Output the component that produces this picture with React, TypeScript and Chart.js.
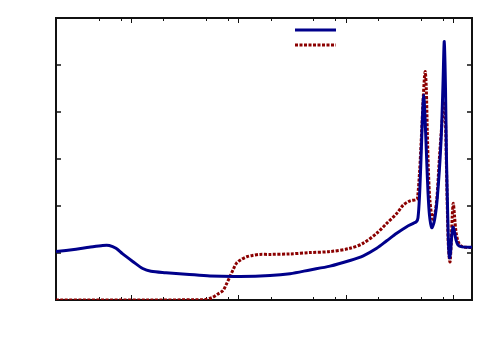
import React, { useEffect, useRef } from "react";
import { Chart, registerables } from "chart.js";

Chart.register(...registerables);

// ---- data ----
const xRange = [0.2, 1500];
const yRange = [0, 6];
const xMajorTicks = [1, 10, 100, 1000];
const xMinorTicks = [0.5, 0.8, 2, 5, 8, 20, 50, 80, 200, 500, 800];
const yTicks = [1, 2, 3, 4, 5];

const blueX = [
  0.2, 0.307, 0.406, 0.545, 0.627, 0.724, 0.836, 1.037, 1.284, 1.534, 2.117, 3.25, 5.44, 10.35,
  19.7, 30.2, 46.5, 71.3, 109.5, 145.8, 194.2, 240.8, 298.4, 369.8, 426, 456.2, 471, 486.4,
  502.4, 518.8, 532.2, 547.2, 567.6, 583.6, 602.8, 632, 664, 700.6, 731.2, 755.2, 779.8, 805.2,
  828, 849.6, 868, 887, 906.2, 925.8, 945.4, 966.2, 997.8, 1030, 1064, 1111, 1210, 1500,
];
const blueY = [
  1.03, 1.08, 1.12, 1.16, 1.16, 1.1, 0.98, 0.82, 0.67, 0.61, 0.58, 0.55, 0.51, 0.5,
  0.52, 0.56, 0.64, 0.72, 0.84, 0.94, 1.1, 1.26, 1.42, 1.56, 1.63, 1.67, 1.75, 2.2,
  3.0, 3.9, 4.36, 3.9, 2.98, 2.3, 1.8, 1.54, 1.65, 2.0, 2.5, 2.98, 3.6, 4.6,
  5.5, 4.5, 3.0, 2.0, 1.2, 0.9, 1.0, 1.3, 1.55, 1.45, 1.28, 1.17, 1.13, 1.12,
];

const redX = [
  0.2, 1.5, 3.94, 4.89, 5.68, 6.46, 7.19, 7.67, 8.35, 8.91, 9.65, 10.58, 11.95, 13.68, 15.9,
  19.7, 30.2, 46.5, 71.3, 109.5, 145.8, 194.2, 240.8, 298.4, 343.6, 396.8, 458, 468, 486.4,
  502.4, 524.4, 541.6, 550.8, 562.8, 575, 590, 609.2, 645.8, 678.2, 708, 743.8, 771.4, 805.2,
  828, 849.6, 868, 887, 906.2, 935.6, 959.8, 982.8, 1004, 1030, 1064, 1111, 1185, 1319, 1500,
];
const redY = [
  0, 0, 0.005, 0.01, 0.05, 0.13, 0.2, 0.32, 0.5, 0.64, 0.79, 0.86, 0.92, 0.95, 0.97,
  0.97, 0.98, 1.01, 1.03, 1.1, 1.21, 1.42, 1.63, 1.84, 2.02, 2.11, 2.14, 2.2, 2.7,
  3.3, 4.2, 4.75, 4.86, 4.5, 3.6, 2.7, 2.1, 1.72, 1.85, 2.2, 2.98, 3.5, 4.0,
  4.22, 3.8, 2.8, 1.8, 1.1, 0.81, 1.2, 1.8, 2.06, 1.8, 1.45, 1.25, 1.15, 1.12, 1.12,
];

const blueColor = "#00008b";
const redColor = "#8b0000";

const framePlugin = {
  id: "frame",
  beforeDatasetsDraw(chart: any) {
    const { ctx, chartArea: a, scales } = chart;
    const xs = scales.x;
    const ys = scales.y;
    ctx.save();
    ctx.strokeStyle = "#111";
    ctx.lineWidth = 1;
    const tick = (x1: number, y1: number, x2: number, y2: number) => {
      ctx.beginPath();
      ctx.moveTo(x1, y1);
      ctx.lineTo(x2, y2);
      ctx.stroke();
    };
    for (const v of xMajorTicks) {
      const px = Math.round(xs.getPixelForValue(v)) + 0.5;
      tick(px, a.bottom, px, a.bottom - 5);
      tick(px, a.top, px, a.top + 5);
    }
    for (const v of xMinorTicks) {
      const px = Math.round(xs.getPixelForValue(v)) + 0.5;
      tick(px, a.bottom, px, a.bottom - 3);
      tick(px, a.top, px, a.top + 3);
    }
    ctx.lineWidth = 1.5;
    for (const v of yTicks) {
      const py = Math.round(ys.getPixelForValue(v));
      tick(a.left, py, a.left + 5, py);
      tick(a.right, py, a.right - 5, py);
    }
    ctx.lineWidth = 2;
    ctx.strokeRect(a.left, a.top, a.right - a.left, a.bottom - a.top);
    ctx.restore();
  },
  afterDatasetsDraw(chart: any) {
    const { ctx, chartArea: a } = chart;
    ctx.save();
    ctx.lineWidth = 3;
    ctx.lineCap = "butt";
    const x1 = a.right - 177;
    const x2 = a.right - 136;
    ctx.strokeStyle = blueColor;
    ctx.beginPath();
    ctx.moveTo(x1, a.top + 12);
    ctx.lineTo(x2, a.top + 12);
    ctx.stroke();
    ctx.strokeStyle = redColor;
    ctx.setLineDash([3, 1.5]);
    ctx.beginPath();
    ctx.moveTo(x1, a.top + 27);
    ctx.lineTo(x2, a.top + 27);
    ctx.stroke();
    ctx.restore();
  },
};

export default function App() {
  const ref = useRef<HTMLCanvasElement | null>(null);
  useEffect(() => {
    if (!ref.current) return;
    const chart = new Chart(ref.current, {
      type: "line",
      data: {
        datasets: [
          {
            label: "",
            data: blueX.map((x, i) => ({ x, y: blueY[i] })),
            borderColor: blueColor,
            borderWidth: 3,
            pointRadius: 0,
            tension: 0.3,
            fill: false,
          },
          {
            label: "",
            data: redX.map((x, i) => ({ x, y: redY[i] })),
            borderColor: redColor,
            borderWidth: 3,
            borderDash: [3, 1.5],
            pointRadius: 0,
            tension: 0.3,
            fill: false,
          },
        ],
      },
      options: {
        animation: false,
        responsive: false,
        events: [],
        layout: { padding: { left: 56, right: 28, top: 18, bottom: 50 } },
        plugins: { legend: { display: false }, tooltip: { enabled: false } },
        scales: {
          x: { type: "logarithmic", min: xRange[0], max: xRange[1], display: false },
          y: { type: "linear", min: yRange[0], max: yRange[1], display: false },
        },
      },
      plugins: [framePlugin],
    });
    return () => chart.destroy();
  }, []);
  return (
    <div style={{ position: "fixed", left: 0, top: 0, width: 500, height: 350, background: "#fff" }}>
      <canvas ref={ref} width={500} height={350} style={{ display: "block" }} />
    </div>
  );
}
